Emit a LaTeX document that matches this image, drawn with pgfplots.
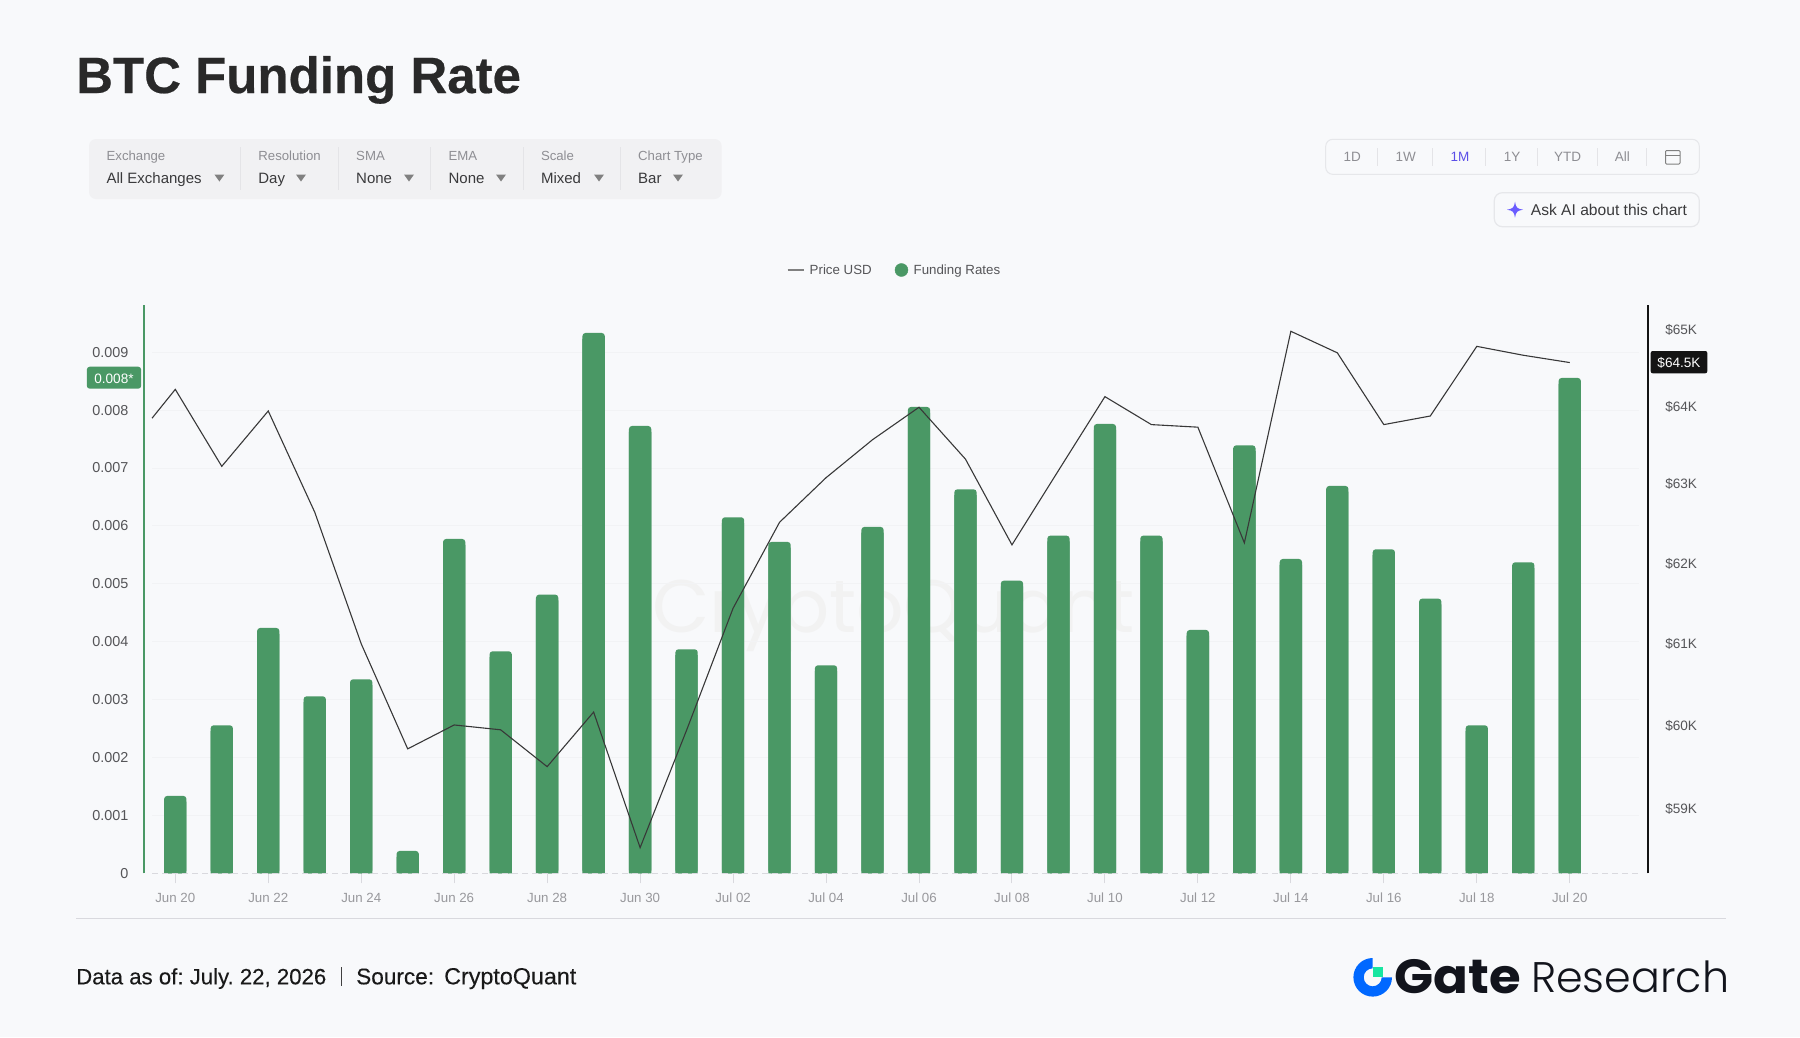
\documentclass[border=0pt]{standalone}
\usepackage{fontspec}
\setmainfont{Liberation Sans}
\newfontfamily\pop{Poppins}
\newfontfamily\poplight{Poppins Light}
\newfontfamily\titlef[BoldFeatures={FakeBold=0.4}]{Liberation Sans}
\newfontfamily\footf[FakeBold=0.2]{Liberation Sans}
\usepackage{pgfplots}
\usepackage{pgfplotstable}
\pgfplotsset{compat=1.18}
\frenchspacing

\definecolor{pagebg}{HTML}{F8F9FB}
\definecolor{barcol}{HTML}{4A9865}
\definecolor{gridcol}{HTML}{F2F3F5}
\definecolor{basecol}{HTML}{D9D9DE}
\definecolor{panelcol}{HTML}{F1F1F3}
\definecolor{sepcol}{HTML}{E4E4E7}
\definecolor{boxcol}{HTML}{E6E7EA}
\definecolor{labgray}{HTML}{8E8E93}
\definecolor{valcol}{HTML}{3A3A3C}
\definecolor{tickcol}{HTML}{555558}
\definecolor{xcol}{HTML}{98989C}
\definecolor{violet}{HTML}{5B4FE8}
\definecolor{inkblack}{HTML}{12141C}
\definecolor{gateblue}{HTML}{0068FF}
\definecolor{gategreen}{HTML}{17E6A1}
\definecolor{starcol}{HTML}{6A5CFF}

% funding rate per day
\pgfplotstableread{
day rate
0 0.001336
1 0.002556
2 0.004237
3 0.003057
4 0.003351
5 0.000386
6 0.005774
7 0.003834
8 0.004813
9 0.009332
10 0.007726
11 0.003869
12 0.006149
13 0.005723
14 0.003592
15 0.005982
16 0.008054
17 0.006632
18 0.005055
19 0.005832
20 0.007760
21 0.005832
22 0.004203
23 0.007392
24 0.005429
25 0.006690
26 0.005596
27 0.004744
28 0.002556
29 0.005371
30 0.008555
}\ratetable

% price in thousand USD, line starts half a day before Jun 20
\pgfplotstableread{
day price
-0.5 63.856
0 64.228
1 63.235
2 63.947
3 62.653
4 61.005
5 59.718
6 60.009
7 59.952
8 59.504
9 60.167
10 58.537
11 59.944
12 61.443
13 62.525
14 63.090
15 63.577
16 63.998
17 63.329
18 62.240
19 63.180
20 64.133
21 63.775
22 63.736
23 62.260
24 64.987
25 64.707
26 63.775
27 63.882
28 64.790
29 64.672
30 64.580
}\pricetable

\newcommand{\T}[5]{\node[anchor=base west,inner sep=0pt,text=#4,font=\fontsize{#3}{#3}\selectfont] at (#1,#2) {#5};}
\newcommand{\C}[5]{\node[anchor=base,inner sep=0pt,text=#4,font=\fontsize{#3}{#3}\selectfont] at (#1,#2) {#5};}
\newcommand{\F}[4]{\node[anchor=base west,inner sep=0pt,text=black!90,font=\footf\fontsize{#3}{#3}\selectfont] at (#1,#2) {#4};}

\begin{document}
\begin{tikzpicture}
\fill[pagebg] (0pt,0pt) rectangle (1800pt,-1037pt);

\begin{scope}[x=1pt,y=-1pt]
% title
\node[anchor=base west,inner sep=0pt,text=black!84,font=\titlef\fontsize{51}{51}\selectfont\bfseries] at (76,93) {BTC Funding Rate};

% selector panel
\fill[panelcol,rounded corners=7pt] (89,139) rectangle (721.6,199);
\foreach \s in {240.8,338.6,430.5,523,620.7}{\draw[sepcol,line width=1pt] (\s,147) -- (\s,190);}
\foreach \x/\a/\b/\t in {106.4/Exchange/All Exchanges/219.4,258.2/Resolution/Day/301,356/SMA/None/409,448.4/EMA/None/501,540.8/Scale/Mixed/599,638/Chart Type/Bar/678}{
  \T{\x}{160.5}{13.2}{labgray}{\a}
  \T{\x}{183}{15}{valcol}{\b}
  \fill[black!50] (\t-5,174.5) -- (\t+5,174.5) -- (\t,181.5) -- cycle;
}

% range box
\draw[boxcol,line width=1pt,rounded corners=7pt] (1325.7,139.3) rectangle (1699.3,174.3);
\foreach \s in {1377.7,1432.3,1485.7,1537.3,1597.3,1646.7}{\draw[sepcol,line width=1pt] (\s,148.3) -- (\s,165.7);}
\foreach \x/\t in {1352.3/1D,1405.7/1W,1512/1Y,1567.7/YTD,1622.3/All}{\C{\x}{161.6}{13.5}{labgray}{\t}}
\C{1460}{161.6}{13.5}{violet}{1M}
\draw[black!50,line width=1pt,rounded corners=1pt] (1665.5,150.5) rectangle (1680,164);
\draw[black!50,line width=1pt] (1665.5,155) -- (1680,155);

% ask button
\draw[boxcol,line width=1.2pt,rounded corners=8pt] (1494.3,192.7) rectangle (1699.3,226.7);
\T{1530.7}{215}{15.6}{valcol}{Ask AI about this chart}

% rule and footer
\draw[basecol,line width=1.5pt] (76,918.6) -- (1726,918.6);
\F{76}{984.3}{22.2}{Data as of: July. 22, 2026}
\draw[black!75,line width=1pt] (341,967) -- (341,986);
\F{356}{984.3}{22.6}{Source:}
\F{444}{984.3}{23.3}{CryptoQuant}

% logo text
\node[anchor=base west,inner sep=0pt,text=inkblack,font=\pop\fontsize{48}{48}\selectfont\bfseries] at (1394,993) {\scalebox{1.07}[1]{Gate}};
\node[anchor=base west,inner sep=0pt,text=inkblack,font=\poplight\fontsize{42.8}{42.8}\selectfont] at (1531,992.3) {Research};

% watermark
\node[anchor=base west,inner sep=0pt,text=black!5,font=\pop\fontsize{74.3}{74.3}\selectfont] at (652,632.7) {CryptoQuant};
\end{scope}

% logo ring and star
\begin{scope}[shift={(1372.7pt,-977.3pt)},x=1pt,y=1pt]
\fill[gateblue] (90:19.3) arc[start angle=90,end angle=360,radius=19.3] -- (0:9) arc[start angle=360,end angle=90,radius=9] -- cycle;
\fill[gategreen] (0,0) rectangle (10.7,10.6);
\end{scope}
\begin{scope}[shift={(1515pt,-209.7pt)},x=1pt,y=1pt]
\fill[starcol] (0,8) .. controls (1,2) and (2,1) .. (8,0) .. controls (2,-1) and (1,-2) .. (0,-8) .. controls (-1,-2) and (-2,-1) .. (-8,0) .. controls (-2,1) and (-1,2) .. (0,8) -- cycle;
\end{scope}

% bars, left axis
\begin{axis}[
  at={(143.5pt,-873.3pt)},anchor=south west,
  scale only axis,width=1504.5pt,height=568.3pt,
  xmin=-0.684,xmax=31.685,
  ymin=0,ymax=0.009815,
  scaled y ticks=false,
  axis x line*=bottom,axis y line*=left,
  x axis line style={draw=none},
  y axis line style={draw=barcol,line width=2pt,-},
  xtick={0,2,...,30},
  xticklabels={Jun 20,Jun 22,Jun 24,Jun 26,Jun 28,Jun 30,Jul 02,Jul 04,Jul 06,Jul 08,Jul 10,Jul 12,Jul 14,Jul 16,Jul 18,Jul 20},
  x tick style={draw=basecol,line width=1pt},
  tick align=outside,
  x tick label style={font=\fontsize{13.3}{13.3}\selectfont,text=xcol,inner sep=0pt,anchor=base,yshift=-19pt},
  ytick={0,0.001,0.002,0.003,0.004,0.005,0.006,0.007,0.008,0.009},
  yticklabels={0,0.001,0.002,0.003,0.004,0.005,0.006,0.007,0.008,0.009},
  y tick style={draw=none},
  y tick label style={font=\fontsize{14.4}{14.4}\selectfont,text=tickcol,inner sep=0pt,anchor=east,xshift=-5pt},
  major tick length=10pt,
  ybar,bar shift=0pt,bar width=22.3pt,
  clip=false,
  legend columns=2,
  legend cell align=left,
  legend style={at={(0.4274,1.0616)},anchor=west,draw=none,fill=none,inner sep=0pt,
    font=\fontsize{13.3}{13.3}\selectfont,text=tickcol,
    /tikz/every even column/.append style={column sep=21pt}},
]
\pgfplotsinvokeforeach{1,...,9}{\draw[gridcol,line width=1pt] (axis cs:-0.5,#1e-3) -- (axis cs:31.5,#1e-3);}
\addplot[forget plot,draw=none,fill=barcol,rounded corners=3pt] table[x=day,y=rate] {\ratetable};
\addplot[forget plot,draw=none,fill=barcol] table[x=day,y expr=\thisrow{rate}-0.0001] {\ratetable};
\draw[basecol,line width=1.5pt,dash pattern=on 6pt off 4pt] (axis cs:-0.5,0) -- (axis cs:31.5,0);
\addlegendimage{legend image code/.code={\draw[black!50,line width=1.5pt] (0pt,0pt) -- (16pt,0pt);\path (20pt,0pt);}}
\addlegendentry{Price USD}
\addlegendimage{legend image code/.code={\fill[barcol] (6.5pt,0pt) circle (6.5pt);\path (16.5pt,0pt);}}
\addlegendentry{Funding Rates}
\end{axis}

% price line, right axis: the scale is logarithmic, so ticks sit at ln(price)
\begin{axis}[
  at={(143.5pt,-873.3pt)},anchor=south west,
  scale only axis,width=1504.5pt,height=568.3pt,
  xmin=-0.684,xmax=31.685,
  ymin=4.06441,ymax=4.17945,
  axis x line=none,axis y line*=right,
  y axis line style={draw=black!92,line width=2pt,-},
  ytick={4.07754,4.09434,4.11087,4.12713,4.14313,4.15888,4.17439},
  yticklabels={\$59K,\$60K,\$61K,\$62K,\$63K,\$64K,\$65K},
  y tick style={draw=none},
  y tick label style={font=\fontsize{13.6}{13.6}\selectfont,text=tickcol,inner sep=0pt,anchor=west,xshift=17pt},
  major tick length=0pt,
]
\addplot[sharp plot,no marks,color=black!78,line width=1.1pt,line join=miter] table[x=day,y expr=ln(\thisrow{price})] {\pricetable};
\end{axis}

% value badges
\begin{scope}[x=1pt,y=-1pt]
\fill[barcol,rounded corners=3pt] (86.8,366.7) rectangle (141.2,388.7);
\C{114}{383}{13.6}{white}{0.008*}
\fill[black!92,rounded corners=2pt] (1650.7,351) rectangle (1707.3,373.3);
\C{1679}{367}{13.6}{white}{\$64.5K}
\end{scope}
\end{tikzpicture}
\end{document}
